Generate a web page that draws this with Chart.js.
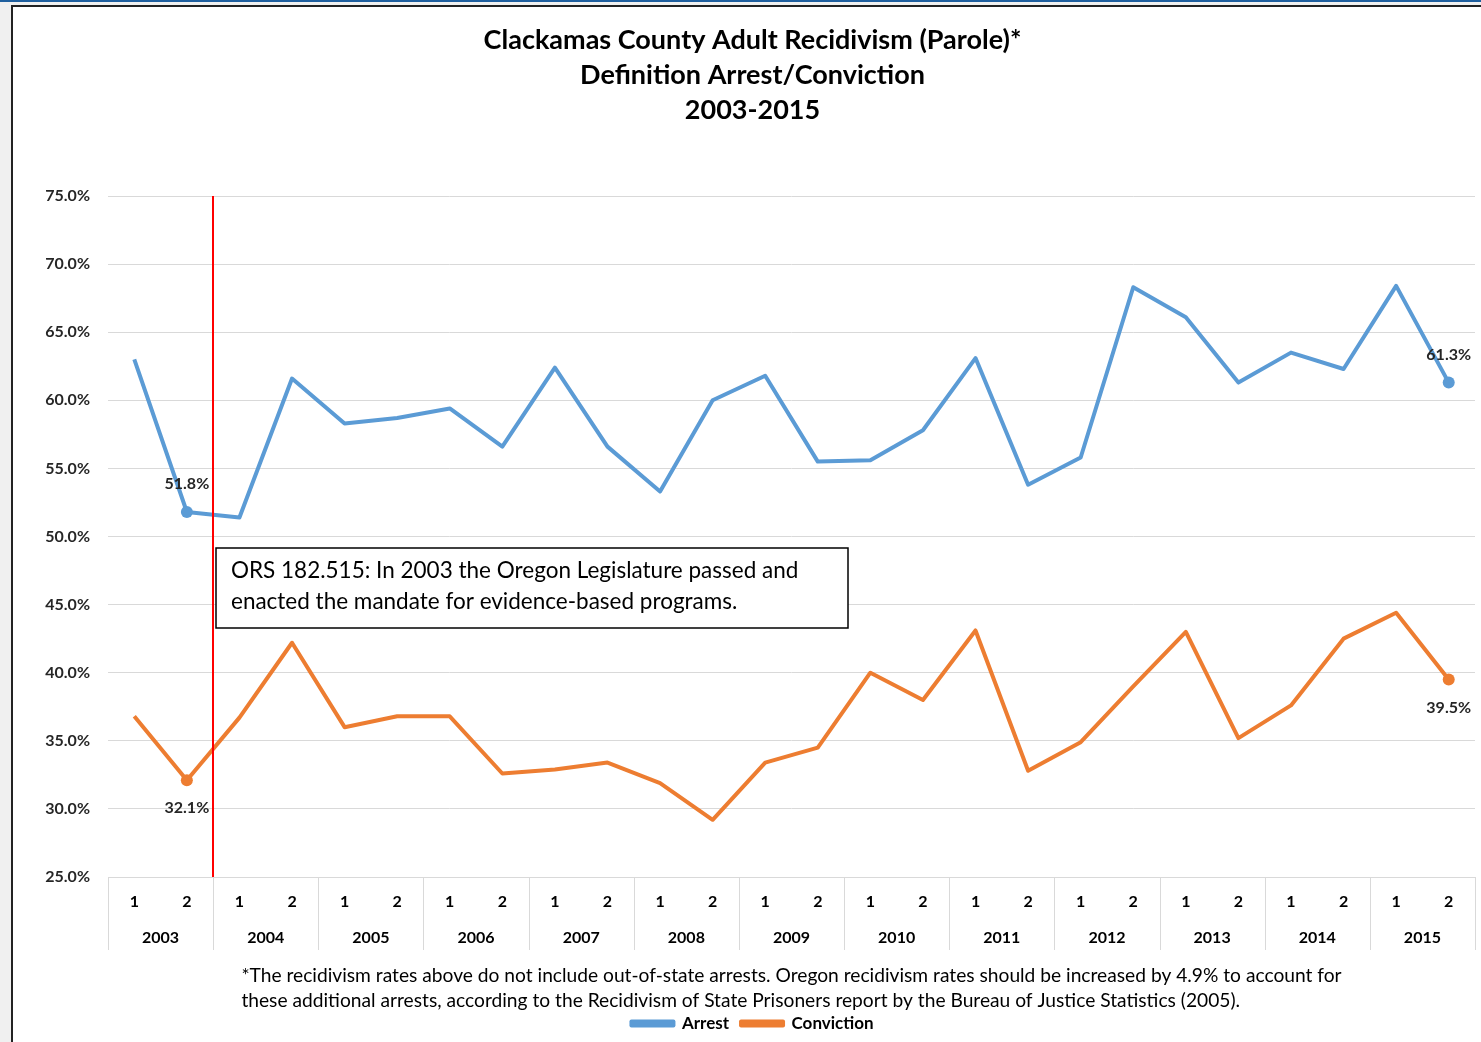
<!DOCTYPE html>
<html>
<head>
<meta charset="utf-8">
<script src="https://cdn.jsdelivr.net/npm/chart.js@4/dist/chart.umd.min.js"></script>
<style>
  html, body { margin: 0; padding: 0; background: #f0f0f0; width: 1481px; height: 1042px; overflow: hidden; }
  #topbar { position: absolute; left: 0; top: 0; width: 1481px; height: 2px; background: #1f5f9e; }
  #panel { position: absolute; left: 11px; top: 5px; width: 1470px; height: 1037px; background: #fff;
           border-left: 2px solid #222; border-top: 2px solid #222; }
  canvas { display: block; }
</style>
</head>
<body>
<div id="topbar"></div>
<div id="panel"><canvas id="c" width="1468" height="1035"></canvas></div>
<script>
// ---- data ----
const halves = ['1','2','1','2','1','2','1','2','1','2','1','2','1','2','1','2','1','2','1','2','1','2','1','2','1','2'];
const years = ['2003','2004','2005','2006','2007','2008','2009','2010','2011','2012','2013','2014','2015'];
const arrest = [63.0, 51.8, 51.4, 61.6, 58.3, 58.7, 59.4, 56.6, 62.4, 56.6, 53.3, 60.0, 61.8,
                55.5, 55.6, 57.8, 63.1, 53.8, 55.8, 68.3, 66.1, 61.3, 63.5, 62.3, 68.4, 61.3];
const conviction = [36.8, 32.1, 36.7, 42.2, 36.0, 36.8, 36.8, 32.6, 32.9, 33.4, 31.9, 29.2, 33.4,
                    34.5, 40.0, 38.0, 43.1, 32.8, 34.9, 39.0, 43.0, 35.2, 37.6, 42.5, 44.4, 39.5];
const labeledIdx = [1, 25];
const titleLines = ['Clackamas County Adult Recidivism (Parole)*', 'Definition Arrest/Conviction', '2003-2015'];
const footnoteLines = ['*The recidivism rates above do not include out-of-state arrests. Oregon recidivism rates should be increased by 4.9% to account for',
                       'these additional arrests, according to the Recidivism of State Prisoners report by the Bureau of Justice Statistics (2005).'];
const noteLines = ['ORS 182.515: In 2003 the Oregon Legislature passed and', 'enacted the mandate for evidence-based programs.'];

const FONT = 'Lato';
const BLUE = '#5b9bd5', ORANGE = '#ed7d31', GRID = '#d9d9d9';
const FOOT_FONT = '19.2px ' + FONT, FOOT_PAD = 13, FOOT_LH = 25;

const overlay = {
  id: 'overlay',
  afterDatasetsDraw(chart) {
    const ctx = chart.ctx, x = chart.scales.x, y = chart.scales.y, area = chart.chartArea;
    // data labels
    ctx.save();
    ctx.font = 'bold 16px ' + FONT;
    ctx.fillStyle = '#262626';
    ctx.textAlign = 'center';
    ctx.textBaseline = 'middle';
    chart.data.datasets.forEach((ds, di) => {
      labeledIdx.forEach(i => {
        const px = x.getPixelForValue(i), py = y.getPixelForValue(ds.data[i]);
        const dy = di === 0 ? -28 : 28;
        ctx.fillText(ds.data[i].toFixed(1) + '%', px, py + dy);
      });
    });
    // red vertical line between 2003 and 2004
    const rx = Math.round((x.getPixelForValue(1) + x.getPixelForValue(2)) / 2);
    ctx.strokeStyle = '#ff0000';
    ctx.lineWidth = 2;
    ctx.beginPath();
    ctx.moveTo(rx, area.top);
    ctx.lineTo(rx, area.bottom);
    ctx.stroke();
    // annotation box
    const bx = rx + 3, by = area.top + 352, bw = 632, bh = 80;
    ctx.fillStyle = '#fff';
    ctx.fillRect(bx, by, bw, bh);
    ctx.strokeStyle = '#000';
    ctx.lineWidth = 1.5;
    ctx.strokeRect(bx, by, bw, bh);
    ctx.fillStyle = '#000';
    ctx.font = '22.5px ' + FONT;
    ctx.textAlign = 'left';
    ctx.textBaseline = 'middle';
    ctx.fillText(noteLines[0], bx + 15, by + 23);
    ctx.fillText(noteLines[1], bx + 15, by + 54);
    ctx.restore();
  },
  afterDraw(chart) {
    const ctx = chart.ctx, x = chart.scales.x, xy = chart.scales.xYear, area = chart.chartArea;
    ctx.save();
    // year dividers
    ctx.strokeStyle = GRID;
    ctx.lineWidth = 1;
    for (let k = 0; k <= years.length; k++) {
      let bx;
      if (k === 0) bx = area.left;
      else if (k === years.length) bx = area.right;
      else bx = (x.getPixelForValue(2 * k - 1) + x.getPixelForValue(2 * k)) / 2;
      bx = Math.round(bx) + 0.5;
      ctx.beginPath();
      ctx.moveTo(bx, area.bottom);
      ctx.lineTo(bx, xy.bottom);
      ctx.stroke();
    }
    // footnote: block centred under the plot, lines left-aligned
    ctx.font = FOOT_FONT;
    ctx.fillStyle = '#000';
    ctx.textAlign = 'left';
    ctx.textBaseline = 'middle';
    const maxW = Math.max(...footnoteLines.map(t => ctx.measureText(t).width));
    const left = (area.left + area.right) / 2 - maxW / 2;
    footnoteLines.forEach((t, i) => {
      ctx.fillText(t, left, xy.bottom + FOOT_PAD + FOOT_LH / 2 + i * FOOT_LH);
    });
    ctx.restore();
  }
};

new Chart(document.getElementById('c'), {
  type: 'line',
  data: {
    labels: halves,
    datasets: [
      { label: 'Arrest', data: arrest, borderColor: BLUE, backgroundColor: BLUE, borderWidth: 4,
        pointRadius: c => labeledIdx.includes(c.dataIndex) ? 6 : 0, pointBackgroundColor: BLUE, pointBorderWidth: 0,
        borderJoinStyle: 'round', tension: 0 },
      { label: 'Conviction', data: conviction, borderColor: ORANGE, backgroundColor: ORANGE, borderWidth: 4,
        pointRadius: c => labeledIdx.includes(c.dataIndex) ? 6 : 0, pointBackgroundColor: ORANGE, pointBorderWidth: 0,
        borderJoinStyle: 'round', tension: 0 }
    ]
  },
  options: {
    responsive: false,
    animation: false,
    events: [],
    layout: { padding: { left: 16, right: 5, top: 0, bottom: 0 } },
    scales: {
      y: {
        min: 25, max: 75,
        afterFit: s => { s.width = 79; },
        ticks: { stepSize: 5, padding: 18, color: '#262626', font: { family: FONT, size: 16, weight: 'bold' },
                 callback: v => Number(v).toFixed(1) + '%' },
        grid: { color: GRID, lineWidth: 1, drawTicks: false },
        border: { display: false }
      },
      x: {
        type: 'category', offset: true,
        afterFit: s => { s.height = 36; },
        grid: { display: false, drawTicks: false },
        border: { display: true, color: GRID },
        ticks: { padding: 15, color: '#000', maxRotation: 0, autoSkip: false, font: { family: FONT, size: 16, weight: 'bold' } }
      },
      xYear: {
        type: 'category', position: 'bottom', labels: years, offset: true,
        afterFit: s => { s.height = 37; },
        grid: { display: false, drawTicks: false },
        border: { display: false },
        ticks: { padding: 15, color: '#000', maxRotation: 0, autoSkip: false, font: { family: FONT, size: 16, weight: 'bold' } }
      }
    },
    plugins: {
      tooltip: { enabled: false },
      title: {
        display: true, text: titleLines, color: '#000',
        font: { family: FONT, size: 27, weight: 'bold', lineHeight: '35px' },
        padding: { top: 16, bottom: 68 }
      },
      // reserves the footnote's space in the layout; the footnote text itself is drawn by the overlay plugin
      subtitle: {
        display: true, text: footnoteLines, position: 'bottom', fullSize: false, weight: 500, color: 'rgba(0,0,0,0)',
        font: { family: FONT, size: 19.2, weight: 'normal', lineHeight: FOOT_LH + 'px' },
        padding: { top: FOOT_PAD, bottom: -10 }
      },
      legend: {
        position: 'bottom', weight: 1000,
        labels: { boxWidth: 42, boxHeight: 4, padding: 12, color: '#000', font: { family: FONT, size: 17, weight: 'bold' } }
      }
    }
  },
  plugins: [overlay]
});
</script>
</body>
</html>
